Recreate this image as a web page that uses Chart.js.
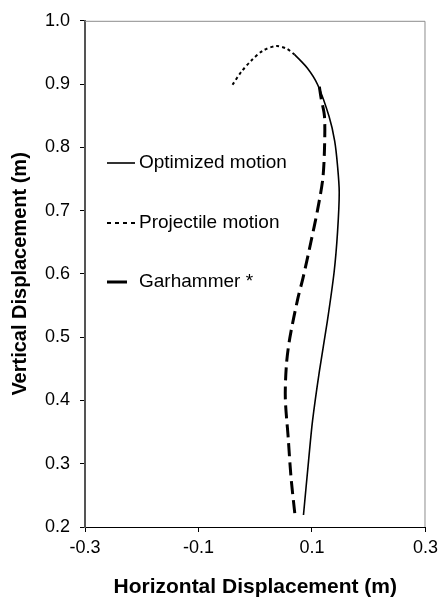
<!DOCTYPE html>
<html>
<head>
<meta charset="utf-8">
<script src="https://cdn.jsdelivr.net/npm/chart.js@4/dist/chart.umd.min.js"></script>
<style>
  html, body { margin: 0; padding: 0; background: #fff; }
  #wrap { width: 443px; height: 603px; }
</style>
</head>
<body>
<div id="wrap"><canvas id="c" width="443" height="603"></canvas></div>
<script>
// ---- data ----
const seriesNames = ['Optimized motion', 'Projectile motion', 'Garhammer *'];

const optimizedX = [0.085, 0.094, 0.101, 0.113, 0.127, 0.139, 0.145, 0.148, 0.145, 0.140, 0.130, 0.110, 0.092, 0.069];
const optimizedY = [0.219, 0.305, 0.368, 0.446, 0.525, 0.603, 0.666, 0.729, 0.771, 0.810, 0.849, 0.899, 0.925, 0.947];

const projectileX = [-0.040, -0.024, -0.006, 0.014, 0.037, 0.055, 0.069];
const projectileY = [0.899, 0.920, 0.938, 0.953, 0.960, 0.956, 0.947];

const garhammerX = [0.113, 0.116, 0.122, 0.122, 0.119, 0.110, 0.098, 0.084, 0.075, 0.061, 0.055, 0.053, 0.058, 0.063, 0.070];
const garhammerY = [0.896, 0.878, 0.849, 0.797, 0.750, 0.702, 0.650, 0.593, 0.561, 0.499, 0.457, 0.404, 0.342, 0.279, 0.219];

const xTicks = [-0.3, -0.1, 0.1, 0.3];
const yTicks = [0.2, 0.3, 0.4, 0.5, 0.6, 0.7, 0.8, 0.9, 1.0];

const xTitle = 'Horizontal Displacement (m)';
const yTitle = 'Vertical Displacement (m)';

// ---- build ----
const zip = (xs, ys) => xs.map((x, i) => ({ x: x, y: ys[i] }));
const FONT = "'Liberation Sans', Arial, sans-serif";

const datasets = [
  { label: seriesNames[0], data: zip(optimizedX, optimizedY), showLine: true,
    borderColor: '#000', borderWidth: 1.6, pointRadius: 0, tension: 0.3, fill: false },
  { label: seriesNames[1], data: zip(projectileX, projectileY), showLine: true,
    borderColor: '#000', borderWidth: 2, borderDash: [3, 3], pointRadius: 0, tension: 0.3, fill: false },
  { label: seriesNames[2], data: zip(garhammerX, garhammerY), showLine: true,
    borderColor: '#000', borderWidth: 3, borderDash: [13, 6], pointRadius: 0, tension: 0.3, fill: false }
];

const frame = {
  id: 'frame',
  beforeDatasetsDraw(chart) {
    const { ctx, chartArea: a } = chart;
    ctx.save();
    ctx.strokeStyle = '#8c8c8c';
    ctx.lineWidth = 1;
    ctx.beginPath();
    ctx.moveTo(a.left, a.top + 0.5);
    ctx.lineTo(a.right - 0.5, a.top + 0.5);
    ctx.lineTo(a.right - 0.5, a.bottom);
    ctx.stroke();
    ctx.restore();
  }
};

const inLegend = {
  id: 'inLegend',
  afterDatasetsDraw(chart) {
    const { ctx } = chart;
    const rows = [
      { y: 163, x0: 107, x1: 135, dash: [] },
      { y: 223, x0: 107, x1: 135, dash: [4, 4] },
      { y: 282, x0: 107, x1: 127, dash: [] }
    ];
    ctx.save();
    chart.data.datasets.forEach((ds, i) => {
      const r = rows[i];
      ctx.strokeStyle = ds.borderColor;
      ctx.lineWidth = ds.borderWidth;
      ctx.setLineDash(r.dash);
      ctx.beginPath();
      ctx.moveTo(r.x0, r.y);
      ctx.lineTo(r.x1, r.y);
      ctx.stroke();
      ctx.setLineDash([]);
      ctx.fillStyle = '#000';
      ctx.font = '19px ' + FONT;
      ctx.textBaseline = 'middle';
      ctx.textAlign = 'left';
      ctx.fillText(ds.label, 139, r.y);
    });
    ctx.restore();
  }
};

new Chart(document.getElementById('c'), {
  type: 'scatter',
  data: { datasets: datasets },
  options: {
    responsive: false,
    animation: false,
    layout: { padding: { top: 17, right: 14, left: 0, bottom: 0 } },
    plugins: { legend: { display: false }, tooltip: { enabled: false } },
    scales: {
      x: {
        type: 'linear', min: -0.3, max: 0.3,
        afterBuildTicks: s => { s.ticks = xTicks.map(v => ({ value: v })); },
        afterFit: s => { s.height = 76; },
        ticks: { font: { family: FONT, size: 18 }, color: '#000', padding: 5,
                 maxRotation: 0, autoSkip: false, callback: v => v.toFixed(1) },
        grid: { drawOnChartArea: false, drawTicks: true, tickLength: 5, color: '#000', lineWidth: 1 },
        border: { color: '#000', width: 1 },
        title: { display: true, text: xTitle, color: '#000',
                 font: { family: FONT, size: 21, weight: 'bold' }, padding: { top: 0, bottom: 3 } }
      },
      y: {
        type: 'linear', min: 0.2, max: 1.0,
        afterBuildTicks: s => { s.ticks = yTicks.map(v => ({ value: v })); },
        afterFit: s => { s.width = 85; },
        ticks: { font: { family: FONT, size: 18 }, color: '#000', padding: 10,
                 autoSkip: false, callback: v => v.toFixed(1) },
        grid: { drawOnChartArea: false, drawTicks: true, tickLength: 5, color: '#000', lineWidth: 1 },
        border: { color: '#555', width: 2 },
        title: { display: true, text: yTitle, color: '#000',
                 font: { family: FONT, size: 20, weight: 'bold' }, padding: { top: 8, bottom: 0 } }
      }
    }
  },
  plugins: [frame, inLegend]
});
</script>
</body>
</html>
